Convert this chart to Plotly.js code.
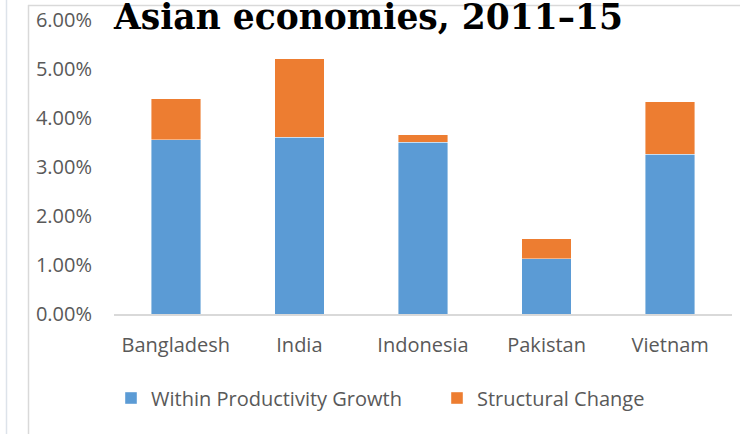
<!DOCTYPE html>
<html>
<head>
<meta charset="utf-8">
<script src="https://cdn.plot.ly/plotly-3.0.1.min.js"></script>
<style>html,body{margin:0;padding:0;background:#fff;}#chart{width:740px;height:434px;}</style>
</head>
<body>
<div id="chart"></div>
<script>
const categories = ["Bangladesh", "India", "Indonesia", "Pakistan", "Vietnam"];
const withinGrowth = [0.0356, 0.0361, 0.0351, 0.0113, 0.0326];
const structuralChange = [0.0083, 0.0160, 0.0015, 0.0041, 0.0107];
const seriesNames = ["Within Productivity Growth", "Structural Change"];
const yTickValues = [0, 0.01, 0.02, 0.03, 0.04, 0.05, 0.06];
const titleText = "Asian economies, 2011\u201315";

const W = 740, H = 434;
const L = 114, R = 8, T = 20, B = 120;
const pw = W - L - R, ph = H - T - B;
const px = x => (x - L) / pw;
const py = y => (H - B - y) / ph;

const traces = [
  {type: "bar", x: categories, y: withinGrowth, name: seriesNames[0], legend: "legend",
   marker: {color: "#5B9BD5", line: {color: "rgba(255,255,255,0.6)", width: 0.7}}, hoverinfo: "none"},
  {type: "bar", x: categories, y: structuralChange, name: seriesNames[1], legend: "legend2",
   marker: {color: "#ED7D31", line: {color: "rgba(255,255,255,0.6)", width: 0.7}}, hoverinfo: "none"}
];

const legendFont = {family: "Open Sans", size: 20, color: "#595959"};
const layout = {
  width: W, height: H,
  margin: {l: L, r: R, t: T, b: B, pad: 0},
  paper_bgcolor: "#fff", plot_bgcolor: "#fff",
  barmode: "stack", bargap: 0.6,
  font: {family: "Open Sans", size: 20, color: "#595959"},
  title: {text: "<b>" + titleText + "</b>", font: {family: "DejaVu Serif", size: 34.5, color: "#000"},
          xref: "container", yref: "container", x: 114 / W, xanchor: "left", y: 1 - 17 / H, yanchor: "middle"},
  xaxis: {showgrid: false, zeroline: false, showline: true, linecolor: "#d9d9d9", linewidth: 1.5,
          ticks: "", ticklabelstandoff: 12, tickfont: {family: "Open Sans", size: 20, color: "#595959"}},
  yaxis: {range: [0, 0.06], tickvals: yTickValues, tickformat: ".2%", showgrid: false, zeroline: false,
          showline: false, ticks: "", ticklabelstandoff: 21, tickfont: {family: "Open Sans", size: 20, color: "#595959"}},
  showlegend: true,
  legend: {orientation: "h", xref: "container", yref: "container", x: 111 / W, xanchor: "left",
           y: 1 - 398 / H, yanchor: "middle", font: legendFont},
  legend2: {orientation: "h", xref: "container", yref: "container", x: 437 / W, xanchor: "left",
           y: 1 - 398 / H, yanchor: "middle", font: legendFont},
  shapes: [
    {type: "line", xref: "paper", yref: "paper", x0: px(6.5), x1: px(6.5), y0: py(0), y1: py(434), line: {color: "#dde3ea", width: 1.5}},
    {type: "line", xref: "paper", yref: "paper", x0: px(28.5), x1: px(28.5), y0: py(5), y1: py(434), line: {color: "#d9d9d9", width: 1.5}},
    {type: "line", xref: "paper", yref: "paper", x0: px(28), x1: px(740), y0: py(5.5), y1: py(5.5), line: {color: "#d9d9d9", width: 1.5}}
  ]
};

Plotly.newPlot("chart", traces, layout, {displayModeBar: false, staticPlot: true});
</script>
</body>
</html>
